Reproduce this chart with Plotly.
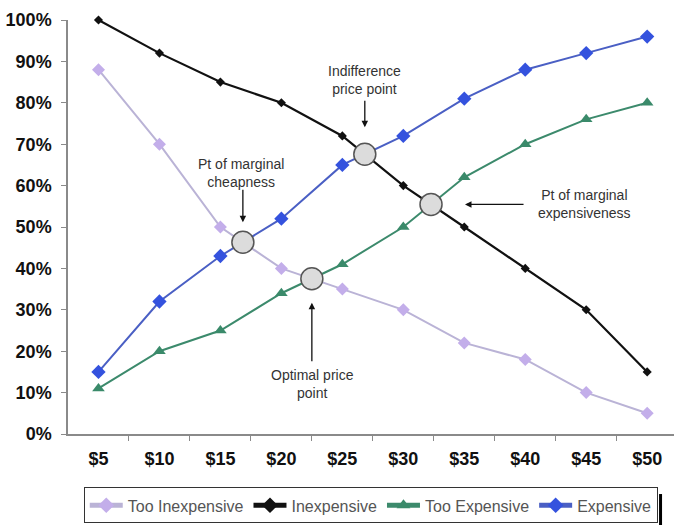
import plotly.graph_objects as go

# Price points (USD) and cumulative share of respondents (%)
prices = [5, 10, 15, 20, 25, 30, 35, 40, 45, 50]
price_labels = ["$5", "$10", "$15", "$20", "$25", "$30", "$35", "$40", "$45", "$50"]
too_inexpensive = [88, 70, 50, 40, 35, 30, 22, 18, 10, 5]
inexpensive = [100, 92, 85, 80, 72, 60, 50, 40, 30, 15]
too_expensive = [11, 20, 25, 34, 41, 50, 62, 70, 76, 80]
expensive = [15, 32, 43, 52, 65, 72, 81, 88, 92, 96]
y_ticks = list(range(0, 101, 10))


def crossing(xs, a, b):
    """Linear-interpolated crossing point of two curves sampled on xs."""
    for i in range(len(xs) - 1):
        d0 = a[i] - b[i]
        d1 = a[i + 1] - b[i + 1]
        if d0 == 0:
            return xs[i], a[i]
        if d0 * d1 < 0:
            t = d0 / (d0 - d1)
            x = xs[i] + t * (xs[i + 1] - xs[i])
            y = a[i] + t * (a[i + 1] - a[i])
            return x, y
    return None


pmc = crossing(prices, too_inexpensive, expensive)      # marginal cheapness
ipp = crossing(prices, inexpensive, expensive)          # indifference
opp = crossing(prices, too_inexpensive, too_expensive)  # optimal price
pme = crossing(prices, inexpensive, too_expensive)      # marginal expensiveness

fig = go.Figure()

fig.add_trace(go.Scatter(
    x=prices, y=too_inexpensive, name="Too Inexpensive", mode="lines+markers",
    line=dict(color="#bab3d6", width=2),
    marker=dict(symbol="diamond", size=10, color="#c3aeea"),
    cliponaxis=False,
))
fig.add_trace(go.Scatter(
    x=prices, y=inexpensive, name="Inexpensive", mode="lines+markers",
    line=dict(color="#111111", width=2.2),
    marker=dict(symbol="diamond", size=7, color="#111111"),
    cliponaxis=False,
))
fig.add_trace(go.Scatter(
    x=prices, y=too_expensive, name="Too Expensive", mode="lines+markers",
    line=dict(color="#3c8a6c", width=2),
    marker=dict(symbol="triangle-up", size=11, color="#3a8a6a"),
    cliponaxis=False,
))
fig.add_trace(go.Scatter(
    x=prices, y=expensive, name="Expensive", mode="lines+markers",
    line=dict(color="#4a5fc4", width=2),
    marker=dict(symbol="diamond", size=11, color="#3452de"),
    cliponaxis=False,
))

# Highlight the four crossing points
pts = [pmc, ipp, opp, pme]
fig.add_trace(go.Scatter(
    x=[p[0] for p in pts], y=[p[1] for p in pts], mode="markers",
    marker=dict(symbol="circle", size=22, color="#dcdcdc",
                line=dict(color="#555555", width=1.5)),
    showlegend=False, hoverinfo="skip", cliponaxis=False,
))

note_font = dict(family="Liberation Sans, Arial, sans-serif", size=14, color="#333333")
arrow = dict(showarrow=True, arrowhead=2, arrowsize=1, arrowwidth=1.3,
             arrowcolor="#111111", text="", axref="pixel", ayref="pixel")

annotations = [
    # Indifference price point
    dict(x=ipp[0], y=ipp[1], yshift=27, ax=0, ay=-28, **arrow),
    dict(x=26.84, y=85.5, text="Indifference<br>price point", showarrow=False, font=note_font),
    # Point of marginal cheapness
    dict(x=pmc[0], y=pmc[1], yshift=20, ax=0, ay=-34, **arrow),
    dict(x=16.72, y=63.0, text="Pt of marginal<br>cheapness", showarrow=False, font=note_font),
    # Optimal price point
    dict(x=opp[0], y=opp[1], yshift=-24, ax=0, ay=60, **arrow),
    dict(x=22.58, y=12.1, text="Optimal price<br>point", showarrow=False, font=note_font),
    # Point of marginal expensiveness
    dict(x=pme[0], y=pme[1], xshift=34, ax=60, ay=0, **arrow),
    dict(x=44.88, y=55.6, text="Pt of marginal<br>expensiveness", showarrow=False, font=note_font),
]

tick_font = dict(family="Liberation Sans, Arial, sans-serif", size=18, color="#111111")

fig.update_layout(
    width=674, height=525,
    margin=dict(l=68, r=0, t=20, b=91, autoexpand=False),
    paper_bgcolor="white", plot_bgcolor="white",
    showlegend=True,
    legend=dict(
        orientation="h", x=0.026, y=-0.216, xanchor="left", yanchor="bottom",
        bgcolor="white", bordercolor="#333333", borderwidth=1,
        font=dict(family="Liberation Sans, Arial, sans-serif", size=16, color="#555555"),
        itemsizing="constant", itemwidth=33,
    ),
    annotations=annotations,
    shapes=[
        # legend drop shadow on the right
        dict(type="line", xref="paper", yref="paper",
             x0=0.9778, x1=0.9778, y0=-0.145, y1=-0.23,
             line=dict(color="#000000", width=3)),
    ],
    xaxis=dict(
        range=[2.5, 52.2], tickvals=prices, ticktext=[f"<b>{t}</b>" for t in price_labels],
        ticks="", showgrid=False, zeroline=False,
        showline=True, linecolor="#8a8a8a", linewidth=1.5,
        tickfont=tick_font, ticklabelstandoff=8,
        minor=dict(tickvals=[p + 2.5 for p in prices[:-1]], ticks="outside",
                   ticklen=5, tickcolor="#8a8a8a", tickwidth=1.2),
        fixedrange=True,
    ),
    yaxis=dict(
        range=[0, 100], tickvals=y_ticks, ticktext=[f"<b>{v}%</b>" for v in y_ticks],
        ticks="outside", ticklen=5, tickcolor="#8a8a8a", tickwidth=1.2,
        showgrid=False, zeroline=False,
        showline=True, linecolor="#8a8a8a", linewidth=1.5,
        tickfont=tick_font, ticklabelstandoff=6,
        fixedrange=True,
    ),
)

fig.write_html("out.html")
